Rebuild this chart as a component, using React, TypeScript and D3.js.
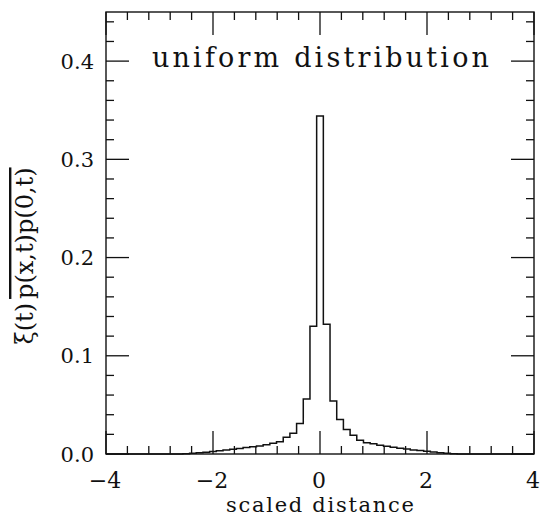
import React, { useEffect, useRef } from "react";
import * as d3 from "d3";

// histogram of scaled distance, bin width 0.125, centred on 0
const binCenters = [
  -2.5, -2.375, -2.25, -2.125, -2, -1.875, -1.75, -1.625, -1.5, -1.375,
  -1.25, -1.125, -1, -0.875, -0.75, -0.625, -0.5, -0.375, -0.25, -0.125,
  0,
  0.125, 0.25, 0.375, 0.5, 0.625, 0.75, 0.875, 1, 1.125, 1.25,
  1.375, 1.5, 1.625, 1.75, 1.875, 2, 2.125, 2.25, 2.375, 2.5,
];
const binValues = [
  0.0003, 0.0007, 0.0012, 0.0018, 0.0025, 0.0032, 0.004, 0.0048, 0.0055, 0.0065,
  0.0075, 0.0082, 0.0095, 0.011, 0.0125, 0.017, 0.021, 0.031, 0.056, 0.13,
  0.344,
  0.132, 0.054, 0.035, 0.025, 0.019, 0.014, 0.0115, 0.0105, 0.009, 0.0078,
  0.0068, 0.0058, 0.005, 0.0042, 0.0035, 0.0028, 0.002, 0.0014, 0.0008, 0.0003,
];
const binWidth = 0.125;

const xMajorTicks = [-4, -2, 0, 2, 4];
const xTickLabels = ["\u22124", "\u22122", "0", "2", "4"];
const yMajorTicks = [0, 0.1, 0.2, 0.3, 0.4];
const yTickLabels = ["0.0", "0.1", "0.2", "0.3", "0.4"];

const W = 540;
const H = 519;
const left = 106, right = 534, top = 12, bottom = 454;
const ink = "#111";
const serif = "'DejaVu Serif', 'Liberation Serif', serif";

export default function App() {
  const plotRef = useRef<SVGGElement>(null);

  const x = d3.scaleLinear().domain([-4, 4]).range([left, right]);
  const y = d3.scaleLinear().domain([0, 0.45]).range([bottom, top]);

  useEffect(() => {
    const svg = d3.select(plotRef.current);
    svg.selectAll("*").remove();

    // frame
    svg.append("rect")
      .attr("x", left).attr("y", top)
      .attr("width", right - left).attr("height", bottom - top)
      .attr("fill", "none").attr("stroke", ink).attr("stroke-width", 1.4);

    const g = svg.append("g").attr("stroke", ink).attr("stroke-width", 1.3);

    // x ticks, bottom and top
    const xMinor = d3.range(-4, 4.001, 0.4);
    xMinor.forEach((v) => {
      const major = xMajorTicks.some((m) => Math.abs(m - v) < 1e-6);
      const len = major ? 23 : 8;
      g.append("line").attr("x1", x(v)).attr("x2", x(v)).attr("y1", bottom).attr("y2", bottom - len);
      g.append("line").attr("x1", x(v)).attr("x2", x(v)).attr("y1", top).attr("y2", top + len);
    });

    // y ticks, left and right
    const yMinor = d3.range(0, 0.4501, 0.02);
    yMinor.forEach((v) => {
      const major = yMajorTicks.some((m) => Math.abs(m - v) < 1e-6);
      const len = major ? 23 : 8;
      g.append("line").attr("x1", left).attr("x2", left + len).attr("y1", y(v)).attr("y2", y(v));
      g.append("line").attr("x1", right).attr("x2", right - len).attr("y1", y(v)).attr("y2", y(v));
    });

    // step histogram
    const pts: [number, number][] = [[-4, 0]];
    binCenters.forEach((c, i) => pts.push([c - binWidth / 2, binValues[i]]));
    pts.push([binCenters[binCenters.length - 1] + binWidth / 2, 0]);
    pts.push([4, 0]);
    const line = d3.line<[number, number]>()
      .x((d) => x(d[0]))
      .y((d) => y(d[1]))
      .curve(d3.curveStepAfter);
    svg.append("path")
      .attr("d", line(pts))
      .attr("fill", "none")
      .attr("stroke", ink)
      .attr("stroke-width", 1.5);

    // tick labels
    svg.selectAll("text.xl")
      .data(xMajorTicks)
      .join("text")
      .attr("class", "xl")
      .attr("x", (d) => x(d) - 1)
      .attr("y", 488)
      .attr("text-anchor", "middle")
      .attr("font-family", serif)
      .attr("font-size", 22)
      .attr("fill", ink)
      .text((d, i) => xTickLabels[i]);

    svg.selectAll("text.yl")
      .data(yMajorTicks)
      .join("text")
      .attr("class", "yl")
      .attr("x", 94)
      .attr("y", (d) => y(d) + 7.5)
      .attr("text-anchor", "end")
      .attr("font-family", serif)
      .attr("font-size", 21)
      .attr("fill", ink)
      .text((d, i) => yTickLabels[i]);
  }, []);

  return (
    <svg
      width={W}
      height={H}
      style={{ position: "absolute", left: 0, top: 0, background: "#fff" }}
    >
      <g ref={plotRef} />
      <text
        x={152}
        y={67}
        textLength={337}
        lengthAdjust="spacing"
        fontFamily={serif}
        fontSize={27}
        fill={ink}
      >
        uniform distribution
      </text>
      <text
        x={320}
        y={512}
        textAnchor="middle"
        fontFamily={serif}
        fontSize={21}
        fill={ink}
        textLength={188}
        lengthAdjust="spacing"
      >
        scaled distance
      </text>
      <text
        transform="translate(33,256) rotate(-90)"
        textAnchor="middle"
        fontFamily={serif}
        fontSize={24}
        fill={ink}
      >
        <tspan>ξ(t)</tspan>
        <tspan dx={4} style={{ textDecoration: "overline" }}>p(x,t)p(0,t)</tspan>
      </text>
    </svg>
  );
}
